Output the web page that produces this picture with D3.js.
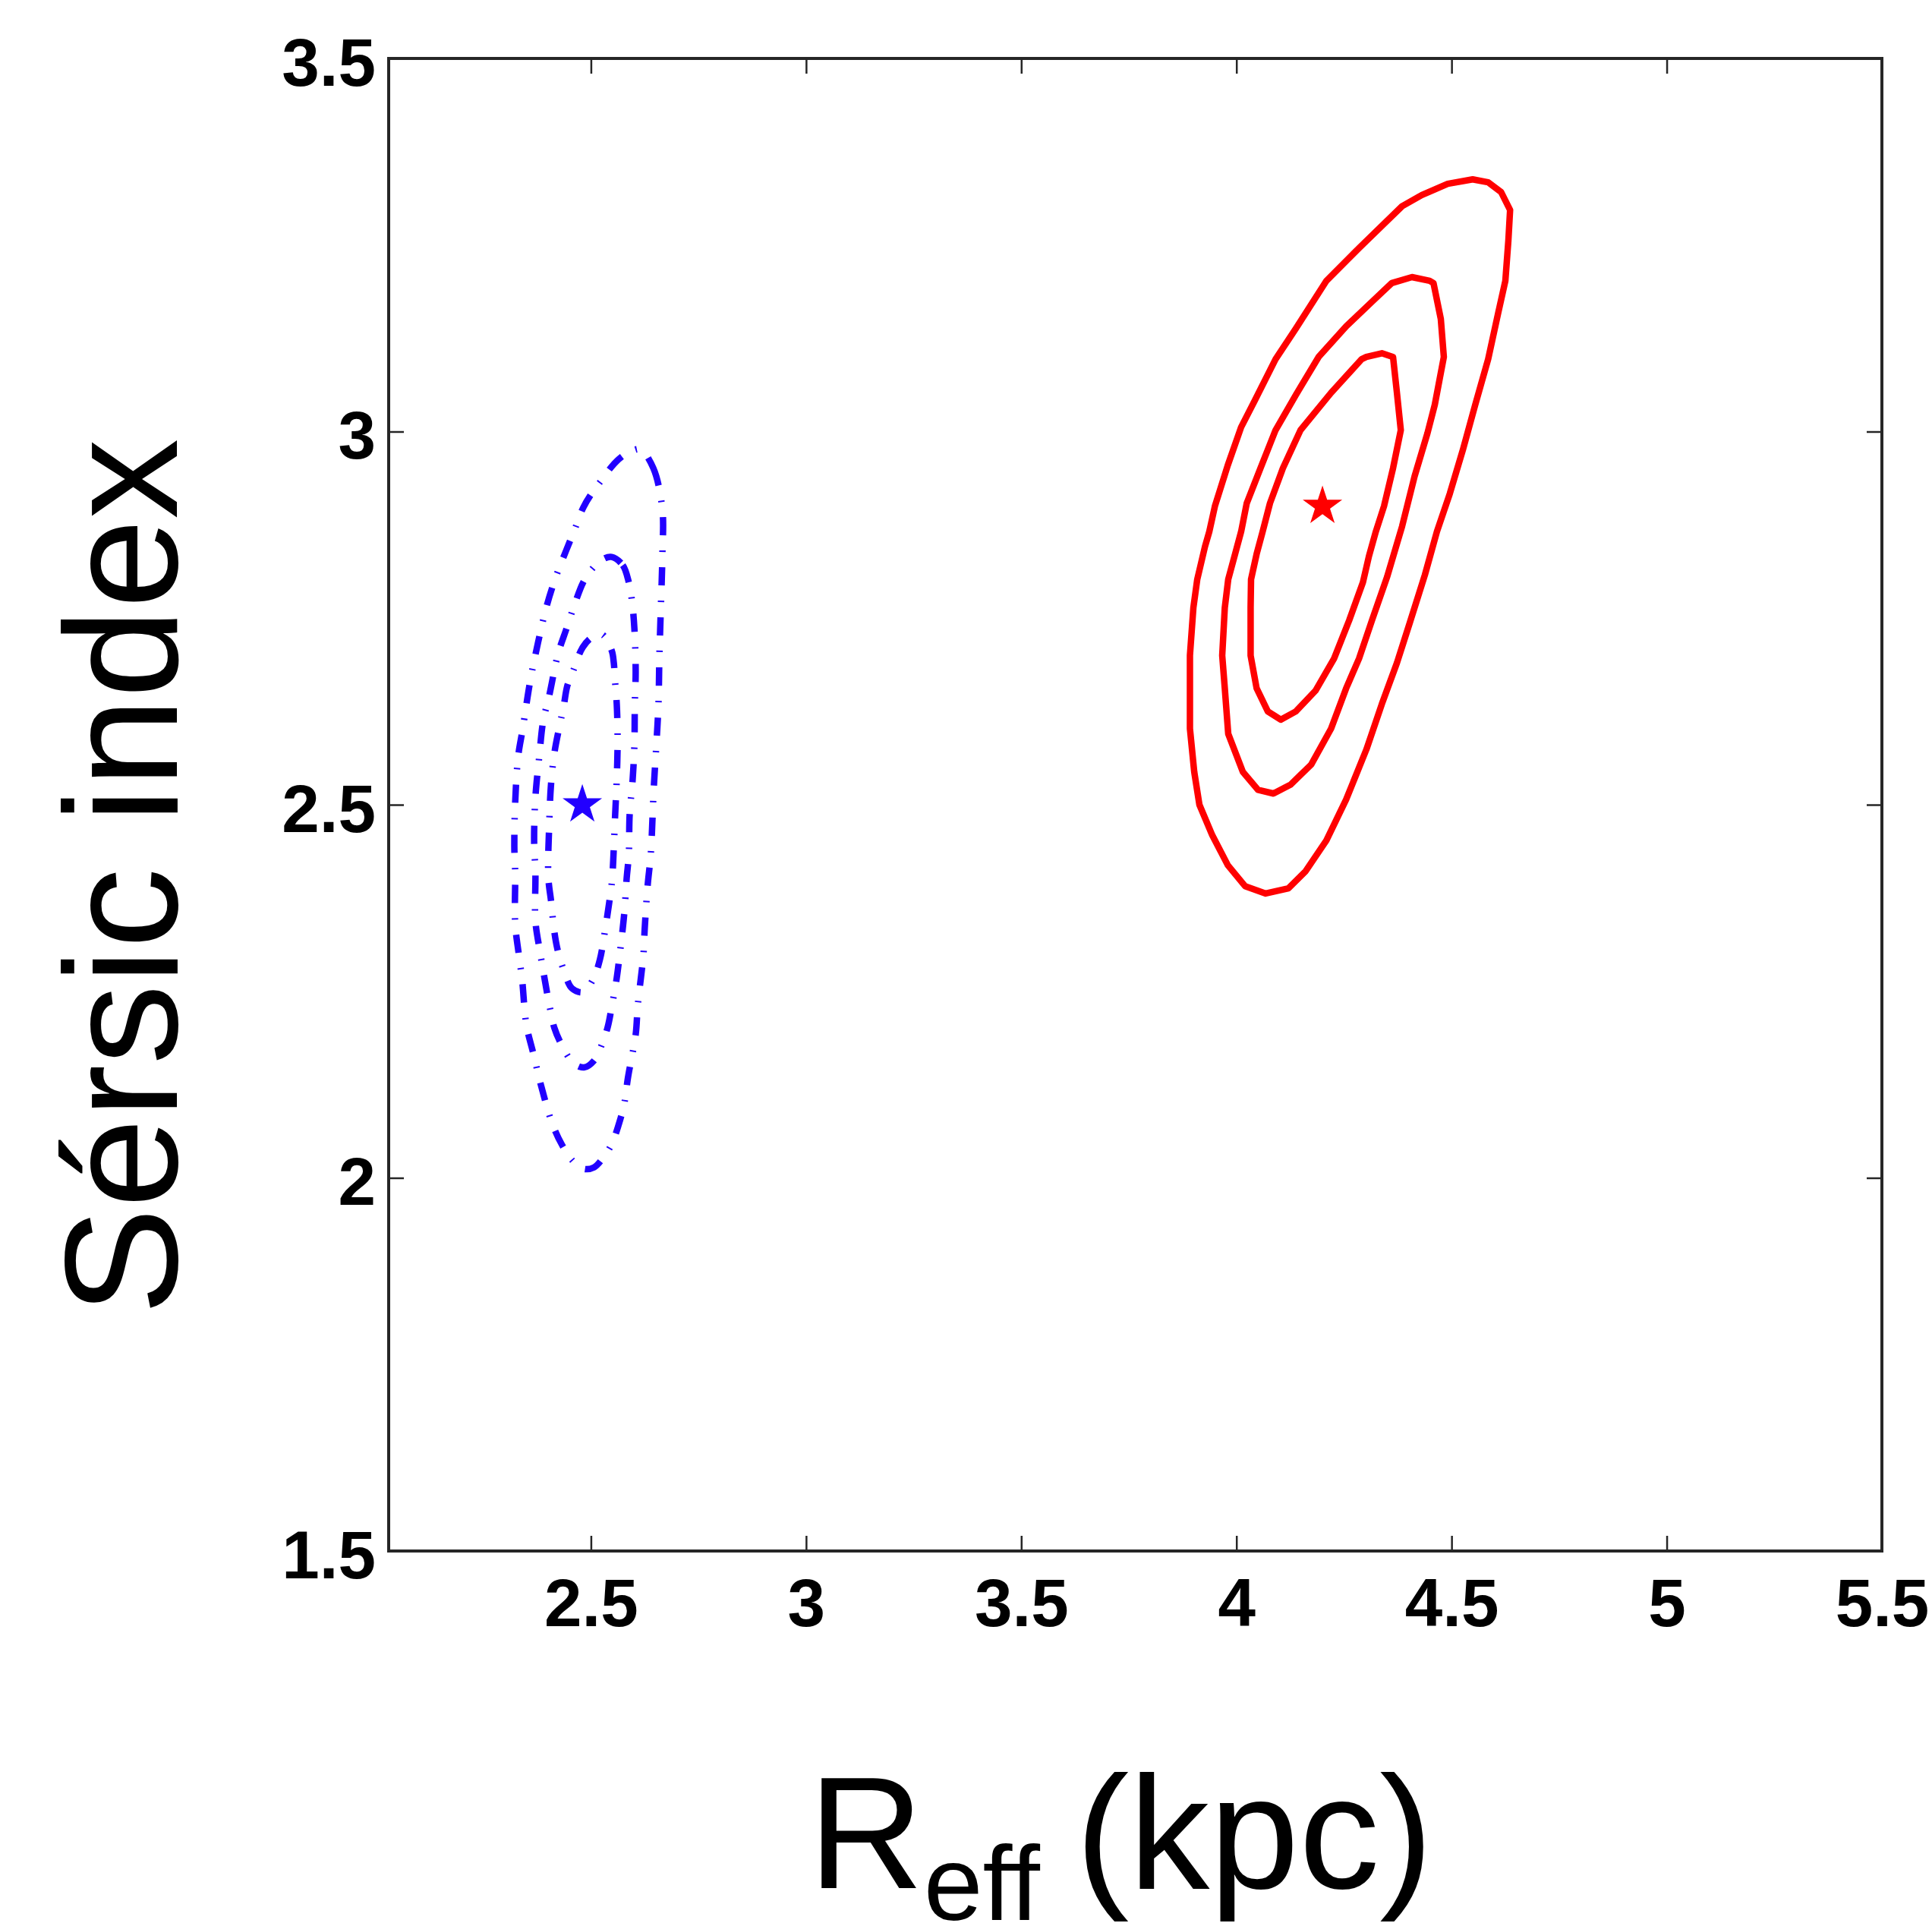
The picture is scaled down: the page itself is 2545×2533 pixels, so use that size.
<!DOCTYPE html>
<html>
<head>
<meta charset="utf-8">
<script src="https://cdn.jsdelivr.net/npm/d3@7"></script>
<style>
  html, body { margin: 0; padding: 0; background: #fff; }
  svg { display: block; }
</style>
</head>
<body>
<script>
// Axis settings
const xDomain = [2.03, 5.5];
const yDomain = [1.5, 3.5];
const xTicks = [2.5, 3, 3.5, 4, 4.5, 5, 5.5];
const yTicks = [1.5, 2, 2.5, 3, 3.5];
const xLabelMain = "R";
const xLabelSub = "eff ";
const xLabelUnit = "(kpc)";
const yLabel = "Sérsic index";

// Best-fit positions [R_eff, n]
const blueBest = [2.48, 2.5];
const redBest = [4.2, 2.9];

// Blue confidence contours (dash-dot)
const blueOuter = [
  [2.615,2.976],[2.645,2.951],[2.666,2.896],[2.666,2.834],[2.662,2.755],[2.659,2.697],
  [2.657,2.635],[2.652,2.580],[2.646,2.522],[2.639,2.433],[2.632,2.393],[2.625,2.334],
  [2.622,2.299],[2.609,2.232],[2.604,2.192],[2.586,2.134],[2.578,2.101],[2.569,2.080],
  [2.548,2.045],[2.526,2.025],[2.507,2.014],[2.484,2.012],[2.459,2.022],[2.433,2.044],
  [2.410,2.073],[2.384,2.124],[2.366,2.167],[2.350,2.205],[2.340,2.266],[2.332,2.301],
  [2.324,2.340],[2.324,2.408],[2.322,2.444],[2.324,2.503],[2.331,2.565],[2.341,2.600],
  [2.359,2.666],[2.377,2.717],[2.398,2.768],[2.419,2.806],[2.442,2.840],[2.463,2.870],
  [2.482,2.898],[2.504,2.919],[2.526,2.936],[2.548,2.953],[2.571,2.966],[2.595,2.974]
];
const blueMiddle = [
  [2.548,2.832],[2.574,2.821],[2.588,2.798],[2.595,2.775],[2.601,2.736],[2.604,2.678],
  [2.602,2.635],[2.601,2.580],[2.597,2.534],[2.590,2.487],[2.588,2.433],[2.583,2.401],
  [2.578,2.358],[2.572,2.324],[2.567,2.300],[2.560,2.268],[2.548,2.228],[2.539,2.202],
  [2.525,2.178],[2.507,2.157],[2.484,2.148],[2.459,2.154],[2.433,2.177],[2.415,2.201],
  [2.403,2.233],[2.391,2.271],[2.382,2.302],[2.371,2.344],[2.371,2.408],[2.368,2.452],
  [2.371,2.510],[2.380,2.565],[2.389,2.612],[2.403,2.646],[2.424,2.703],[2.442,2.734],
  [2.463,2.770],[2.482,2.798],[2.500,2.814],[2.525,2.828]
];
const blueInner = [
  [2.526,2.728],[2.548,2.707],[2.553,2.691],[2.556,2.666],[2.560,2.635],[2.562,2.589],
  [2.560,2.534],[2.556,2.483],[2.553,2.440],[2.549,2.398],[2.544,2.375],[2.535,2.340],
  [2.521,2.293],[2.505,2.266],[2.482,2.249],[2.456,2.254],[2.437,2.278],[2.422,2.307],
  [2.414,2.334],[2.408,2.368],[2.401,2.403],[2.403,2.472],[2.407,2.525],[2.415,2.569],
  [2.428,2.608],[2.437,2.633],[2.445,2.659],[2.459,2.680],[2.481,2.711],[2.504,2.725]
];

// Red confidence contours (solid)
const redOuter = [
  [4.385,3.302],[4.431,3.317],[4.491,3.332],[4.549,3.338],[4.585,3.334],[4.615,3.321],
  [4.636,3.297],[4.632,3.256],[4.625,3.202],[4.608,3.158],[4.585,3.097],[4.555,3.036],
  [4.526,2.975],[4.496,2.917],[4.466,2.866],[4.438,2.808],[4.403,2.744],[4.373,2.690],
  [4.338,2.635],[4.302,2.574],[4.255,2.507],[4.209,2.452],[4.161,2.411],[4.121,2.388],
  [4.068,2.381],[4.020,2.391],[3.980,2.419],[3.944,2.459],[3.914,2.500],[3.902,2.544],
  [3.892,2.602],[3.892,2.700],[3.900,2.764],[3.909,2.802],[3.927,2.846],[3.937,2.866],
  [3.950,2.900],[3.980,2.955],[4.011,3.006],[4.043,3.042],[4.091,3.097],[4.138,3.138],
  [4.209,3.202],[4.285,3.246]
];
const redMiddle = [
  [4.361,3.199],[4.408,3.207],[4.449,3.202],[4.458,3.199],[4.475,3.151],[4.482,3.100],
  [4.461,3.036],[4.444,2.998],[4.414,2.940],[4.385,2.873],[4.350,2.805],[4.315,2.747],
  [4.285,2.696],[4.255,2.656],[4.220,2.602],[4.174,2.554],[4.126,2.527],[4.086,2.515],
  [4.050,2.520],[4.015,2.544],[3.981,2.595],[3.973,2.656],[3.967,2.700],[3.973,2.764],
  [3.981,2.802],[3.997,2.836],[4.011,2.866],[4.024,2.904],[4.056,2.951],[4.091,3.002],
  [4.138,3.049],[4.191,3.100],[4.255,3.141],[4.315,3.174]
];
const redInner = [
  [4.302,3.100],[4.338,3.105],[4.364,3.100],[4.373,3.052],[4.382,3.002],[4.364,2.951],
  [4.343,2.900],[4.324,2.866],[4.308,2.833],[4.294,2.798],[4.262,2.747],[4.227,2.696],
  [4.184,2.653],[4.138,2.625],[4.103,2.614],[4.073,2.625],[4.047,2.656],[4.033,2.700],
  [4.033,2.764],[4.034,2.802],[4.047,2.836],[4.061,2.866],[4.078,2.904],[4.108,2.951],
  [4.149,3.002],[4.220,3.052],[4.291,3.097]
];

const W = 2545, H = 2533;
const L = 512, R = 2479, T = 77, B = 2043;
const axisColor = "#262626";
const blue = "#2200ff";
const red = "#ff0000";
const tickFont = "'Liberation Sans', Arial, Helvetica, sans-serif";

const svg = d3.select("body").append("svg")
  .attr("width", W).attr("height", H)
  .attr("viewBox", `0 0 ${W} ${H}`);
svg.append("rect").attr("width", W).attr("height", H).attr("fill", "#fff");

const x = d3.scaleLinear().domain(xDomain).range([L, R]);
const y = d3.scaleLinear().domain(yDomain).range([B, T]);
const fmt = d => String(d);

// Contours, clipped to the axes box
svg.append("clipPath").attr("id", "plotclip")
  .append("rect").attr("x", L).attr("y", T).attr("width", R - L).attr("height", B - T);
const plot = svg.append("g").attr("clip-path", "url(#plotclip)");

const blueLine = d3.line().x(d => x(d[0])).y(d => y(d[1])).curve(d3.curveCatmullRomClosed.alpha(0.5));
const redLine = d3.line().x(d => x(d[0])).y(d => y(d[1])).curve(d3.curveLinearClosed);

[blueOuter, blueMiddle, blueInner].forEach(c => {
  plot.append("path")
    .attr("d", blueLine(c))
    .attr("fill", "none")
    .attr("stroke", blue)
    .attr("stroke-width", 8.5)
    .attr("stroke-linecap", "butt")
    .attr("stroke-dasharray", "24,20,2,20");
});

[redOuter, redMiddle, redInner].forEach(c => {
  plot.append("path")
    .attr("d", redLine(c))
    .attr("fill", "none")
    .attr("stroke", red)
    .attr("stroke-width", 8.5)
    .attr("stroke-linejoin", "round");
});

// Best-fit stars
const star = d3.symbol().type(d3.symbolStar).size(840);
plot.append("path").attr("d", star())
  .attr("transform", `translate(${x(blueBest[0])},${y(blueBest[1])})`)
  .attr("fill", blue);
plot.append("path").attr("d", star())
  .attr("transform", `translate(${x(redBest[0])},${y(redBest[1])})`)
  .attr("fill", red);

// Axes with inward ticks on all four sides
function styleAxis(g) {
  g.select(".domain").remove();
  g.selectAll(".tick line").attr("stroke", axisColor).attr("stroke-width", 2.5);
  g.selectAll(".tick text")
    .attr("fill", "#000")
    .style("font-family", tickFont)
    .style("font-weight", "bold")
    .style("font-size", "89px");
}

const gBottom = svg.append("g").attr("transform", `translate(0,${B})`)
  .call(d3.axisBottom(x).tickValues(xTicks).tickSize(-20).tickFormat(fmt));
styleAxis(gBottom);
gBottom.selectAll(".tick text").attr("y", 99).attr("dy", null);

const gTop = svg.append("g").attr("transform", `translate(0,${T})`)
  .call(d3.axisTop(x).tickValues(xTicks).tickSize(-20).tickFormat(""));
styleAxis(gTop);

const gLeft = svg.append("g").attr("transform", `translate(${L},0)`)
  .call(d3.axisLeft(y).tickValues(yTicks).tickSize(-20).tickFormat(fmt));
styleAxis(gLeft);
gLeft.selectAll(".tick text").attr("x", -17).attr("dy", null).attr("y", 35);

const gRight = svg.append("g").attr("transform", `translate(${R},0)`)
  .call(d3.axisRight(y).tickValues(yTicks).tickSize(-20).tickFormat(""));
styleAxis(gRight);

// Axes box
svg.append("rect")
  .attr("x", L).attr("y", T).attr("width", R - L).attr("height", B - T)
  .attr("fill", "none").attr("stroke", axisColor).attr("stroke-width", 4);

// Axis titles
const xt = svg.append("text")
  .attr("x", 1065).attr("y", 2487)
  .style("font-family", tickFont)
  .style("font-size", "210px")
  .attr("fill", "#000");
xt.append("tspan").text(xLabelMain);
xt.append("tspan").attr("dy", 42).style("font-size", "140px").style("white-space", "pre").text(xLabelSub);
xt.append("tspan").attr("dy", -42).attr("dx", 8).style("font-size", "212px").text(xLabelUnit);

svg.append("text")
  .attr("transform", "translate(233,1155) rotate(-90)")
  .attr("text-anchor", "middle")
  .style("font-family", tickFont)
  .style("font-size", "212px")
  .attr("fill", "#000")
  .text(yLabel);
</script>
</body>
</html>
